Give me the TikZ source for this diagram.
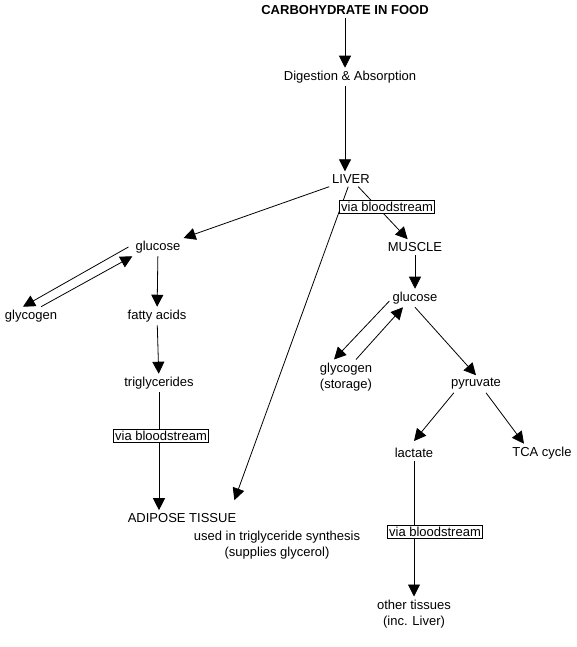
\documentclass[tikz,border=0pt]{standalone}
\usepackage{fontspec}
\setmainfont{Liberation Sans}
\usetikzlibrary{arrows.meta}

\begin{document}
\begin{tikzpicture}[x=1pt, y=-1pt,
  every node/.style = {align=center, inner sep=3pt,
    font=\fontsize{13}{16.5}\selectfont},
  box/.style = {draw, fill=white, line width=0.8pt, inner sep=2pt},
  arr/.style = {line width=0.8pt, -{Triangle[length=12pt,width=12pt]}}]
  \useasboundingbox (0,0) rectangle (577,647);
  \node[font=\fontsize{13}{16.5}\selectfont\bfseries] (food) at (345,10) {CARBOHYDRATE IN FOOD};
  \node (dig) at (350,77) {Digestion \& Absorption};
  \node (liver) at (351,179) {LIVER};
  \node (glcA) at (158,247) {glucose};
  \node (muscle) at (415,247) {MUSCLE};
  \node (glyA) at (31,316) {glycogen};
  \node (fat) at (157,316) {fatty acids};
  \node (glcB) at (415,298) {glucose};
  \node (trig) at (159,383) {triglycerides};
  \node (glyB) at (346,377) {glycogen\\(storage)};
  \node (pyr) at (476,384) {pyruvate};
  \node (lac) at (414,453) {lactate};
  \node (tca) at (542,453) {TCA cycle};
  \node (adip) at (182,518) {ADIPOSE TISSUE};
  \node (used) at (277,545) {used in triglyceride synthesis\\(supplies glycerol)};
  \node (other) at (414,614) {other tissues\\(inc. Liver)};

  \draw[arr] (food) -- (food |- dig.north);
  \draw[arr] (food |- dig.south) -- (food |- liver.north);
  \draw[arr] (liver) -- (glcA);
  \draw[arr] (liver) -- (muscle);
  \draw[arr] (liver) -- ([shift={(-5,-10)}]adip.north east);
  \draw[arr] ([xshift=-4pt]glcA.west) -- ([xshift=-8pt]glyA.north);
  \draw[arr] ([xshift=10pt]glyA.north) -- (glcA.south west);
  \draw[arr] (glcA) -- (fat);
  \draw[arr] (fat) -- (trig);
  \draw[arr] (trig) -- (trig |- adip.north);
  \draw[arr] (muscle) -- (glcB);
  \draw[arr] ([yshift=-3pt]glcB.west) -- ([xshift=-12pt]glyB.north);
  \draw[arr] ([xshift=10pt]glyB.north) -- ([xshift=-12pt]glcB.south);
  \draw[arr] (glcB.south) -- (pyr.north);
  \draw[arr] ([xshift=6pt]pyr.south west) -- ([yshift=4pt]lac.north);
  \draw[arr] ([xshift=10pt]pyr.south) -- ([xshift=-18pt]tca.north);
  \draw[arr] (lac) -- (other);

  \node[box] (vbL) at (387,207) {via bloodstream};
  \node[box] (vbT) at (161,436) {via bloodstream};
  \node[box] (vbM) at (435,532) {via bloodstream};
\end{tikzpicture}
\end{document}
